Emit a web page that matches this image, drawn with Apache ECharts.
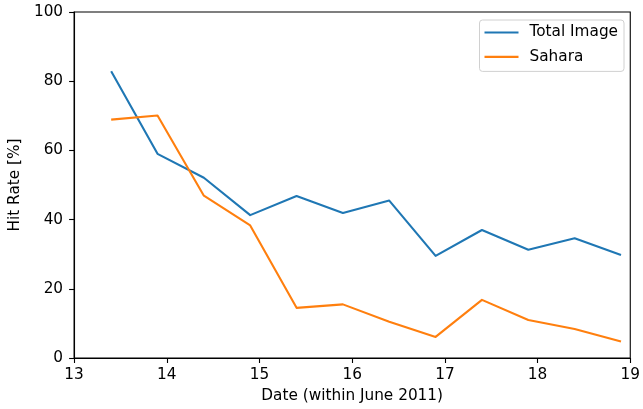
<!DOCTYPE html>
<html>
<head>
<meta charset="utf-8">
<script src="https://cdn.jsdelivr.net/npm/echarts@6/dist/echarts.min.js"></script>
<style>
  html, body { margin: 0; padding: 0; background: #fff; }
  #chart { width: 643px; height: 409px; }
</style>
</head>
<body>
<div id="chart"></div>
<script>
// Days in June 2011 at which hit rates were measured
const dates = [13.4, 13.9, 14.4, 14.9, 15.4, 15.9, 16.4, 16.9, 17.4, 17.9, 18.4, 18.9];
// Hit rate [%] over the whole image
const totalImage = [82.9, 59.0, 52.1, 41.3, 46.8, 41.9, 45.5, 29.5, 37.0, 31.3, 34.6, 29.8];
// Hit rate [%] over the Sahara region
const sahara = [68.9, 70.1, 46.9, 38.3, 14.5, 15.5, 10.5, 6.1, 16.8, 11.0, 8.4, 4.8];

const xTicks = [13, 14, 15, 16, 17, 18, 19];
const yTicks = [0, 20, 40, 60, 80, 100];

const FONT = 'DejaVu Sans';
const FS = 15.3;
const pairs = (xs, ys) => xs.map((x, i) => [x, ys[i]]);

const chart = echarts.init(document.getElementById('chart'), null, { renderer: 'canvas' });

const axisCommon = {
  axisLine: { show: true, lineStyle: { color: '#000', width: 1.1 } },
  axisTick: { show: true, inside: false, length: 5, lineStyle: { color: '#000', width: 1.1 } },
  splitLine: { show: false },
  nameTextStyle: { fontFamily: FONT, fontSize: FS, color: '#000' }
};

chart.setOption({
  animation: false,
  backgroundColor: '#fff',
  grid: {
    left: 71.7, right: 10.7, top: 12, bottom: 48,
    show: true, borderColor: '#000', borderWidth: 1.1, backgroundColor: 'transparent'
  },
  legend: {
    orient: 'vertical',
    right: 19, top: 20,
    padding: [5, 6, 7, 5],
    itemGap: 9.4,
    icon: 'rect',
    itemWidth: 34, itemHeight: 2.1,
    borderColor: '#d0d0d0', borderWidth: 1, borderRadius: 3,
    backgroundColor: 'rgba(255,255,255,0.8)',
    textStyle: { fontFamily: FONT, fontSize: FS, lineHeight: 14, color: '#000', padding: [0, 0, 0, 6] },
    data: ['Total Image', 'Sahara']
  },
  xAxis: Object.assign({}, axisCommon, {
    type: 'value', min: 13, max: 19, interval: 1,
    name: 'Date (within June 2011)', nameLocation: 'middle', nameGap: 31,
    axisLabel: {
      fontFamily: FONT, fontSize: FS, color: '#000', margin: 10,
      formatter: v => xTicks.includes(v) ? String(v) : ''
    }
  }),
  yAxis: Object.assign({}, axisCommon, {
    type: 'value', min: 0, max: 100, interval: 20,
    name: 'Hit Rate [%]', nameLocation: 'middle', nameGap: 47,
    axisLabel: {
      fontFamily: FONT, fontSize: FS, color: '#000', margin: 11,
      formatter: v => yTicks.includes(v) ? String(v) : ''
    }
  }),
  series: [
    {
      name: 'Total Image', type: 'line', data: pairs(dates, totalImage),
      symbol: 'none', color: '#1f77b4',
      lineStyle: { width: 2.1, color: '#1f77b4', join: 'round' }
    },
    {
      name: 'Sahara', type: 'line', data: pairs(dates, sahara),
      symbol: 'none', color: '#ff7f0e',
      lineStyle: { width: 2.1, color: '#ff7f0e', join: 'round' }
    }
  ]
});
</script>
</body>
</html>
